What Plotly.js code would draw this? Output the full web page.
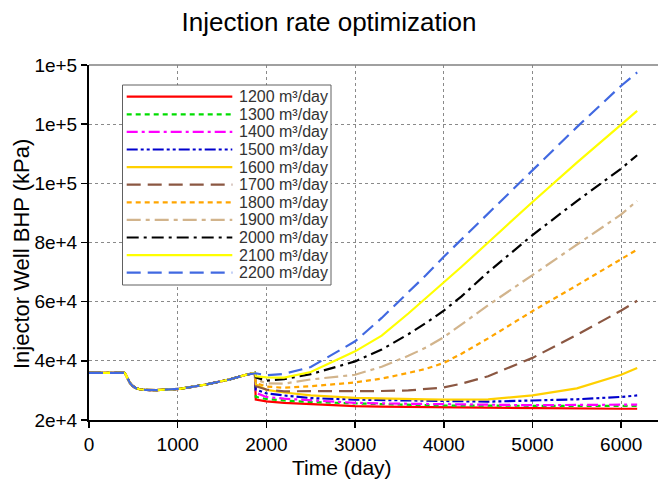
<!DOCTYPE html>
<html>
<head>
<meta charset="utf-8">
<script src="https://cdn.plot.ly/plotly-3.0.1.min.js"></script>
<style>html,body{margin:0;padding:0;background:#fff;}#chart{width:658px;height:480px;}</style>
</head>
<body>
<div id="chart"></div>
<script>
// ---- data ----
const commonDays = [0, 400, 412, 425, 440, 460, 485, 520, 570, 640, 756, 1019, 1320, 1583, 1771, 1870];
const commonBHP  = [35900, 35900, 35500, 34700, 33600, 32600, 31700, 30900, 30400, 30150, 30100, 30500, 32000, 33700, 35300, 35900];
const splitDays  = [1880, 2000, 2200, 2500, 3000, 3300, 3600, 3800, 4000, 4200, 4500, 5000, 5500, 6000, 6180];

const bhp1200 = [26900, 26300, 25800, 25300, 24700, 24500, 24400, 24350, 24300, 24200, 24100, 23900, 23850, 23800, 23800];
const bhp1300 = [27800, 27100, 26600, 26100, 25600, 25300, 25100, 25000, 24900, 24850, 24800, 24800, 24800, 24800, 24800];
const bhp1400 = [29200, 27800, 27200, 26600, 25800, 25600, 25500, 25400, 25300, 25200, 25100, 25000, 25100, 25200, 25200];
const bhp1500 = [30300, 29000, 28300, 27400, 26900, 26800, 26700, 26600, 26500, 26300, 26200, 26600, 27000, 27800, 28300];
const bhp1600 = [32000, 30200, 29300, 28300, 27500, 27200, 27000, 26950, 26900, 26900, 27000, 28300, 30700, 35300, 37600];
const bhp1700 = [31400, 30300, 29700, 29700, 29700, 29800, 30000, 30400, 31000, 32300, 34800, 41000, 48800, 57000, 60300];
const bhp1800 = [32500, 31300, 30900, 31400, 32700, 34000, 35900, 37300, 39300, 42400, 47600, 56800, 65500, 74300, 77600];
const bhp1900 = [33700, 32400, 32300, 33700, 35300, 38000, 41700, 44500, 48000, 52300, 58800, 69000, 79200, 89500, 94100];
const bhp2000 = [34400, 33300, 33800, 35500, 39800, 43800, 49000, 52800, 57000, 61800, 70000, 82500, 94000, 105000, 109500];
const bhp2100 = [34800, 34400, 34300, 36200, 43200, 48500, 56000, 61200, 66500, 71800, 80000, 93700, 107000, 119700, 124500];
const bhp2200 = [35800, 35100, 35600, 37900, 46600, 54500, 63000, 69000, 75200, 81000, 90000, 104500, 119000, 133000, 137500];

const seriesNames = ['1200 m³/day','1300 m³/day','1400 m³/day','1500 m³/day','1600 m³/day','1700 m³/day',
                     '1800 m³/day','1900 m³/day','2000 m³/day','2100 m³/day','2200 m³/day'];
const seriesValues = [bhp1200,bhp1300,bhp1400,bhp1500,bhp1600,bhp1700,bhp1800,bhp1900,bhp2000,bhp2100,bhp2200];

const yTickVals = [20000, 40000, 60000, 80000, 100000, 120000, 140000];
const yTickText = ['2e+4','4e+4','6e+4','8e+4','1e+5','1e+5','1e+5'];
const xTickVals = [0, 1000, 2000, 3000, 4000, 5000, 6000];
const xTickText = ['0','1000','2000','3000','4000','5000','6000'];

// ---- styles ----
const styles = [
  {color:'#FF0000', dash:'solid'},
  {color:'#00DD00', dash:'5px,4px'},
  {color:'#FF00FF', dash:'11px,4px,3px,4px'},
  {color:'#0000CD', dash:'11px,3px,3px,3px,3px,3px'},
  {color:'#FFD000', dash:'solid'},
  {color:'#8B5742', dash:'14px,7px'},
  {color:'#FFA500', dash:'5px,4px'},
  {color:'#D2B48C', dash:'14px,5px,4px,5px'},
  {color:'#000000', dash:'12px,5px,3px,5px'},
  {color:'#FFFF00', dash:'solid'},
  {color:'#4169E1', dash:'14px,7px'}
];
const LW = 2.2;
const FONT = 'Liberation Sans, Arial, sans-serif';

const traces = seriesValues.map((vals, i) => ({
  type: 'scatter', mode: 'lines',
  x: commonDays.concat(splitDays),
  y: commonBHP.concat(vals),
  name: seriesNames[i],
  line: {color: styles[i].color, width: LW, dash: styles[i].dash},
  showlegend: false, hoverinfo: 'skip'
}));

// ---- layout geometry (pixels) ----
const W = 658, H = 480, ML = 89, MR = 0, MT = 65, MB = 60;
const pw = W - ML - MR, ph = H - MT - MB;
const px2x = p => (p - ML) / pw;
const py2y = p => (H - MB - p) / ph;

const shapes = [
  {type:'line', xref:'paper', yref:'paper', x0:0, x1:1, y0:1, y1:1, line:{color:'#808080', width:1.5}},
  {type:'rect', xref:'paper', yref:'paper', x0:px2x(122.5), x1:px2x(331), y0:py2y(85), y1:py2y(285),
   line:{color:'#606060', width:1}, fillcolor:'#ffffff', layer:'above'}
];
const annotations = [
  {xref:'paper', yref:'paper', x:px2x(342), y:py2y(467), xanchor:'center', yanchor:'middle',
   text:'Time (day)', showarrow:false, font:{family:FONT, size:21, color:'#000'}},
  {xref:'paper', yref:'paper', x:px2x(22), y:py2y(254), xanchor:'center', yanchor:'middle', textangle:-90,
   text:'Injector Well BHP (kPa)', showarrow:false, font:{family:FONT, size:22, color:'#000'}}
];
seriesNames.forEach((nm, i) => {
  const yy = py2y(96.7 + i * 17.6);
  shapes.push({type:'line', xref:'paper', yref:'paper', x0:px2x(126.7), x1:px2x(232.3), y0:yy, y1:yy,
    line:{color:styles[i].color, width:LW, dash:styles[i].dash}, layer:'above'});
  annotations.push({xref:'paper', yref:'paper', x:px2x(237), y:yy, xanchor:'left', yanchor:'middle',
    text:nm, showarrow:false, font:{family:FONT, size:16, color:'#333'}});
});

const layout = {
  width: W, height: H,
  margin: {l:ML, r:MR, t:MT, b:MB, pad:0},
  paper_bgcolor:'#fff', plot_bgcolor:'#fff',
  font: {family: FONT, color:'#000'},
  title: {text:'Injection rate optimization', font:{family:FONT, size:26, color:'#000'},
          x:0.5, xref:'container', y:1 - 22/480, yref:'container', yanchor:'middle'},
  xaxis: {range:[0, pw / 88.7 * 1000], tickvals:xTickVals, ticktext:xTickText,
          showline:true, linecolor:'#000', linewidth:2, ticks:'outside', ticklen:6, tickwidth:1.5, tickcolor:'#000',
          showgrid:true, gridcolor:'#8a8a8a', griddash:'dot', gridwidth:1, zeroline:false,
          tickfont:{family:FONT, size:19, color:'#000'}, automargin:false},
  yaxis: {range:[20000, 140000], tickvals:yTickVals, ticktext:yTickText,
          showline:true, linecolor:'#000', linewidth:2, ticks:'outside', ticklen:6, tickwidth:1.5, tickcolor:'#000',
          showgrid:true, gridcolor:'#8a8a8a', griddash:'dot', gridwidth:1, zeroline:false,
          tickfont:{family:FONT, size:19, color:'#000'}, automargin:false},
  shapes: shapes,
  annotations: annotations,
  showlegend: false
};

Plotly.newPlot('chart', traces, layout, {staticPlot:true, displayModeBar:false});
</script>
</body>
</html>
